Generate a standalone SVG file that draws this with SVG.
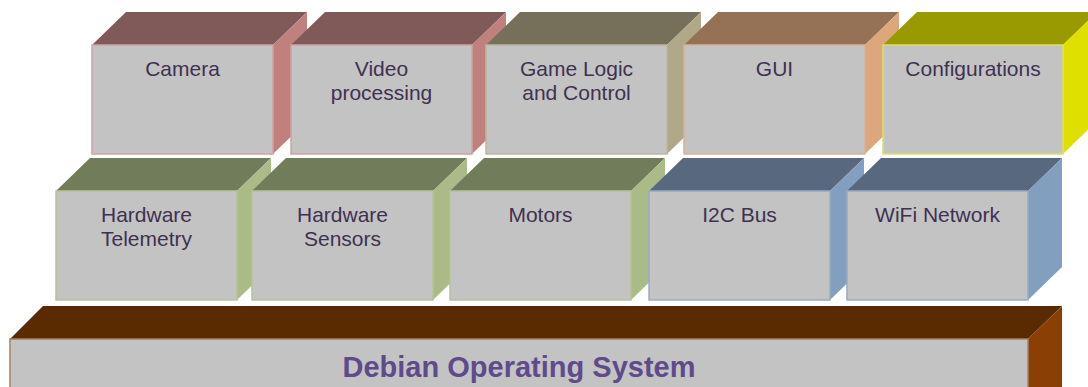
<svg xmlns="http://www.w3.org/2000/svg" width="1088" height="387" viewBox="0 0 1088 387">
<style>
.front{fill:#c3c3c3;stroke-width:1.5}
.lbl{font-family:"Liberation Sans",Arial,sans-serif;font-size:21px;fill:#3f3151;text-anchor:middle}
.os{font-family:"Liberation Sans",Arial,sans-serif;font-size:29px;font-weight:bold;fill:#5f4b8b;text-anchor:middle}
.rose .top{fill:#805a58}.rose .side{fill:#c0807e}.rose .front{stroke:#cfa3a1}
.olive .top{fill:#76705a}.olive .side{fill:#b0a888}.olive .front{stroke:#bdb79f}
.tan .top{fill:#957255}.tan .side{fill:#dba77b}.tan .front{stroke:#d9b397}
.yel .top{fill:#999900}.yel .side{fill:#e0e000}.yel .front{stroke:#dede6a}
.grn .top{fill:#717c5a}.grn .side{fill:#aabb88}.grn .front{stroke:#b5c39d}
.blu .top{fill:#58697f}.blu .side{fill:#839fbf}.blu .front{stroke:#97abc3}
.brn .top{fill:#5a2a00}.brn .side{fill:#8a3f05}.brn .front{stroke:#a8806a}
</style>
<rect width="1088" height="387" fill="#ffffff"/>
<g id="connectors"/>
<!-- top row -->
<g id="camera" class="rose">
<path class="top" d="M92,45 L126,12 L307,12 L273,45 Z"/>
<path class="side" d="M273,45 L307,12 L307,121 L273,154 Z"/>
<rect class="front" x="92" y="45" width="181" height="109"/>
<text class="lbl" x="182.5" y="76">Camera</text>
</g>
<g id="video" class="rose">
<path class="top" d="M291,45 L325,12 L506,12 L472,45 Z"/>
<path class="side" d="M472,45 L506,12 L506,121 L472,154 Z"/>
<rect class="front" x="291" y="45" width="181" height="109"/>
<text class="lbl" x="381.5" y="76">Video</text>
<text class="lbl" x="381.5" y="100">processing</text>
</g>
<g id="game" class="olive">
<path class="top" d="M486,45 L520,12 L701,12 L667,45 Z"/>
<path class="side" d="M667,45 L701,12 L701,121 L667,154 Z"/>
<rect class="front" x="486" y="45" width="181" height="109"/>
<text class="lbl" x="576.5" y="76">Game Logic</text>
<text class="lbl" x="576.5" y="100">and Control</text>
</g>
<g id="gui" class="tan">
<path class="top" d="M684,45 L718,12 L899,12 L865,45 Z"/>
<path class="side" d="M865,45 L899,12 L899,121 L865,154 Z"/>
<rect class="front" x="684" y="45" width="181" height="109"/>
<text class="lbl" x="774.5" y="76">GUI</text>
</g>
<g id="config" class="yel">
<path class="top" d="M883,45 L917,12 L1097,12 L1063,45 Z"/>
<path class="side" d="M1063,45 L1097,12 L1097,121 L1063,154 Z"/>
<rect class="front" x="883" y="45" width="180" height="109"/>
<text class="lbl" x="973" y="76">Configurations</text>
</g>
<!-- middle row -->
<g id="telemetry" class="grn">
<path class="top" d="M56,191 L90,158 L271,158 L237,191 Z"/>
<path class="side" d="M237,191 L271,158 L271,267 L237,300 Z"/>
<rect class="front" x="56" y="191" width="181" height="109"/>
<text class="lbl" x="146.5" y="222">Hardware</text>
<text class="lbl" x="146.5" y="246">Telemetry</text>
</g>
<g id="sensors" class="grn">
<path class="top" d="M252,191 L286,158 L467,158 L433,191 Z"/>
<path class="side" d="M433,191 L467,158 L467,267 L433,300 Z"/>
<rect class="front" x="252" y="191" width="181" height="109"/>
<text class="lbl" x="342.5" y="222">Hardware</text>
<text class="lbl" x="342.5" y="246">Sensors</text>
</g>
<g id="motors" class="grn">
<path class="top" d="M450,191 L484,158 L665,158 L631,191 Z"/>
<path class="side" d="M631,191 L665,158 L665,267 L631,300 Z"/>
<rect class="front" x="450" y="191" width="181" height="109"/>
<text class="lbl" x="540.5" y="222">Motors</text>
</g>
<g id="i2c" class="blu">
<path class="top" d="M649,191 L683,158 L864,158 L830,191 Z"/>
<path class="side" d="M830,191 L864,158 L864,267 L830,300 Z"/>
<rect class="front" x="649" y="191" width="181" height="109"/>
<text class="lbl" x="739.5" y="222">I2C Bus</text>
</g>
<g id="wifi" class="blu">
<path class="top" d="M847,191 L881,158 L1062,158 L1028,191 Z"/>
<path class="side" d="M1028,191 L1062,158 L1062,267 L1028,300 Z"/>
<rect class="front" x="847" y="191" width="181" height="109"/>
<text class="lbl" x="937.5" y="222">WiFi Network</text>
</g>
<!-- base -->
<g id="debian" class="brn">
<path class="top" d="M10,339 L43,306 L1062,306 L1028,339 Z"/>
<path class="side" d="M1028,339 L1062,306 L1062,400 L1028,420 Z"/>
<rect class="front" x="10" y="339" width="1018" height="70"/>
<text class="os" x="519" y="377">Debian Operating System</text>
</g>
</svg>
